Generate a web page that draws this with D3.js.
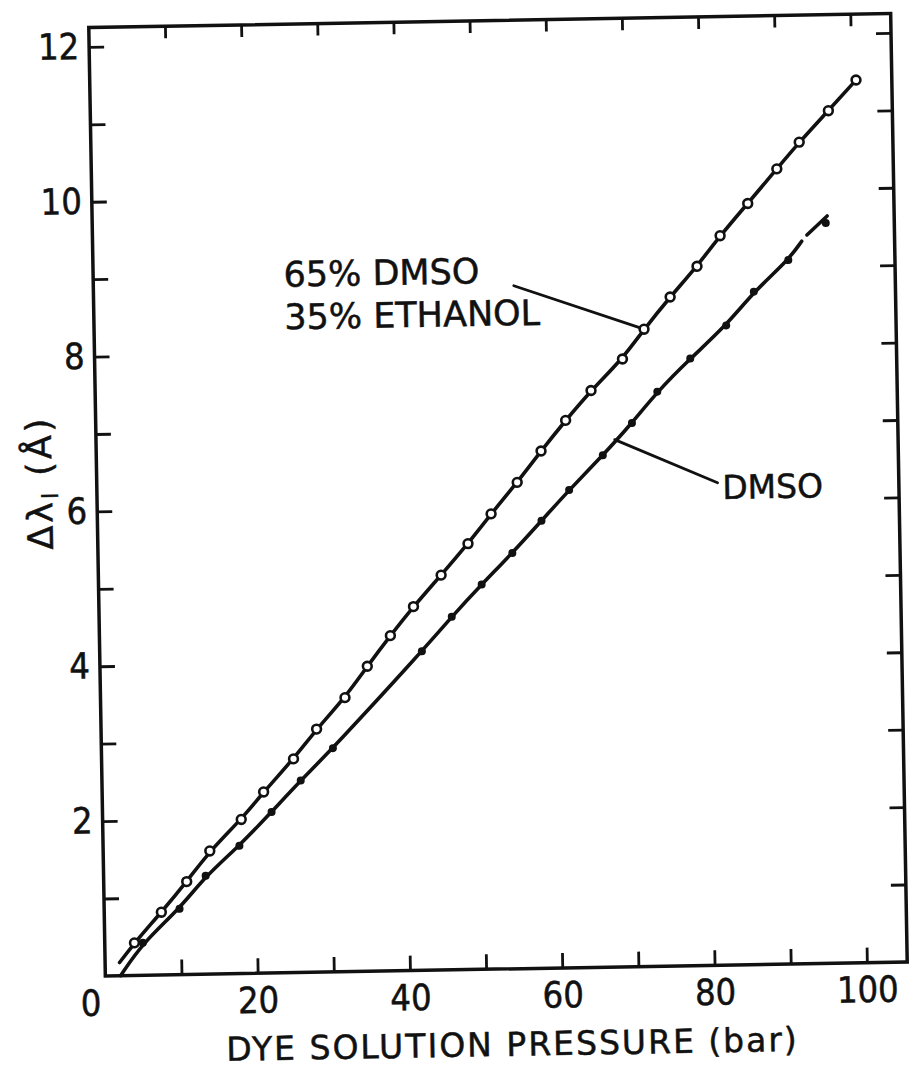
<!DOCTYPE html>
<html>
<head>
<meta charset="utf-8">
<script src="https://cdn.jsdelivr.net/npm/d3@7"></script>
<style>
  html, body { margin: 0; padding: 0; background: #fff; }
  svg { display: block; }
  text { font-family: "DejaVu Sans", sans-serif; fill: #111; stroke: #111; stroke-width: 0.5px; }
</style>
</head>
<body>
<svg id="chart" width="912" height="1069"></svg>
<script>
// Pressure (bar) and wavelength shift (Å) for the 65% DMSO / 35% ethanol mixture
const pressureMix = [3.9, 7.5, 10.9, 14.0, 18.2, 21.2, 25.2, 28.3, 32.1, 35.1, 38.2, 41.3, 45.0, 48.6, 51.7,
                     55.2, 58.4, 61.7, 65.1, 69.3, 72.2, 75.7, 79.3, 82.4, 86.1, 90.0, 93.0, 96.9, 100.6];
const shiftMix    = [0.42, 0.81, 1.20, 1.59, 1.99, 2.34, 2.76, 3.14, 3.54, 3.94, 4.33, 4.70, 5.10, 5.50, 5.88,
                     6.28, 6.68, 7.07, 7.45, 7.85, 8.23, 8.64, 9.03, 9.42, 9.83, 10.27, 10.61, 11.01, 11.40];

// Pressure (bar) and wavelength shift (Å) for pure DMSO
const pressureDmso = [5.0, 9.9, 13.4, 17.9, 22.2, 26.1, 30.4, 42.3, 46.3, 50.3, 54.4, 58.3, 62.0, 66.5,
                      70.4, 73.8, 78.2, 83.0, 86.7, 91.3, 96.3];
const shiftDmso    = [0.42, 0.85, 1.27, 1.65, 2.08, 2.48, 2.89, 4.12, 4.56, 4.97, 5.37, 5.78, 6.17, 6.61,
                      7.02, 7.42, 7.84, 8.26, 8.69, 9.09, 9.56];

// Ends of the drawn curves (the DMSO curve finishes with a short dash)
const mixCurveStart  = [1.9, 0.17];
const dmsoCurveStart = [2.0, 0.0];
const dmsoCurveBreak = [93.1, 9.33];
const dmsoTail       = [[93.8, 9.41], [96.5, 9.65]];

// Label leaders, in data units
const mixLeader  = [[55.2, 8.82], [72.2, 8.23]];
const dmsoLeader = [[68.1, 6.81], [81.5, 6.23]];
const mixLabelLines = ["65% DMSO", "35% ETHANOL"];
const mixLabelAt    = [[25.0, 8.86], [25.0, 8.31]];
const dmsoLabel     = "DMSO";
const dmsoLabelAt   = [82.1, 6.02];

// Axes
const xTicks  = [10, 20, 30, 40, 50, 60, 70, 80, 90, 100];
const xLabels = [0, 20, 40, 60, 80, 100];
const yTicks  = [1, 2, 3, 4, 5, 6, 7, 8, 9, 10, 11, 12];
const yLabels = [2, 4, 6, 8, 10, 12];
const xTitle  = "DYE SOLUTION PRESSURE  (bar)";

const frame = { left: 97, right: 899, top: 20.5, bottom: 969 };
const ink = "#111";

const svg = d3.select("#chart");
// The whole plate sits very slightly turned
const root = svg.append("g").attr("transform", "rotate(-1, 498, 495)");

const x = d3.scaleLinear().domain([0, 105.3]).range([frame.left, frame.right]);
const y = d3.scaleLinear().domain([0, 12.25]).range([frame.bottom, frame.top]);

// Frame
root.append("rect")
  .attr("x", frame.left).attr("y", frame.top)
  .attr("width", frame.right - frame.left).attr("height", frame.bottom - frame.top)
  .attr("fill", "none").attr("stroke", ink).attr("stroke-width", 3.5);

const styleTicks = g => {
  g.select(".domain").remove();
  g.selectAll(".tick line").attr("stroke", ink).attr("stroke-width", 2.8);
};

// Inward ticks on all four sides
root.append("g").attr("transform", `translate(0,${frame.bottom})`)
  .call(d3.axisBottom(x).tickValues(xTicks).tickSize(-15).tickFormat(""))
  .call(styleTicks);
root.append("g").attr("transform", `translate(0,${frame.top})`)
  .call(d3.axisTop(x).tickValues(xTicks).tickSize(-12).tickFormat(""))
  .call(styleTicks);
root.append("g").attr("transform", `translate(${frame.left},0)`)
  .call(d3.axisLeft(y).tickValues(yTicks).tickSize(-15).tickFormat(""))
  .call(styleTicks);
root.append("g").attr("transform", `translate(${frame.right},0)`)
  .call(d3.axisRight(y).tickValues(yTicks).tickSize(-15).tickFormat(""))
  .call(styleTicks);

const tickFont = '"Liberation Sans Narrow", "DejaVu Sans Condensed", "DejaVu Sans", sans-serif';

// Tick labels
const xLab = root.append("g").attr("transform", `translate(0,${frame.bottom})`)
  .call(d3.axisBottom(x).tickValues(xLabels).tickSize(0).tickPadding(14).tickFormat(d3.format("d")));
xLab.select(".domain").remove();
xLab.attr("font-family", null).attr("font-size", null);
xLab.selectAll("text").style("font-family", tickFont).attr("font-size", 36).attr("fill", ink);
xLab.selectAll(".tick").filter(d => d === 0).select("text")
  .attr("text-anchor", "end").attr("x", -5);

const yLab = root.append("g").attr("transform", `translate(${frame.left},0)`)
  .call(d3.axisLeft(y).tickValues(yLabels).tickSize(0).tickPadding(10).tickFormat(d3.format("d")));
yLab.select(".domain").remove();
yLab.attr("font-family", null).attr("font-size", null);
yLab.selectAll("text").style("font-family", tickFont).attr("font-size", 36).attr("fill", ink);

// Axis titles
root.append("text")
  .attr("x", (frame.left + frame.right) / 2 + 5)
  .attr("y", frame.bottom + 87)
  .attr("text-anchor", "middle")
  .attr("font-size", 33)
  .attr("letter-spacing", 2)
  .text(xTitle);

const yTitle = root.append("text")
  .attr("transform", `translate(52,${(frame.top + frame.bottom) / 2 - 20}) rotate(-90)`)
  .attr("text-anchor", "middle")
  .attr("font-size", 35)
  .attr("letter-spacing", 3);
yTitle.append("tspan").text("Δλ");
yTitle.append("tspan").attr("font-size", 22).attr("dy", 6).text("l");
yTitle.append("tspan").attr("dy", -6).text(" (Å)");

// Curves
const curve = d3.line().x(d => x(d[0])).y(d => y(d[1])).curve(d3.curveBasis);
const straight = d3.line().x(d => x(d[0])).y(d => y(d[1]));

const mixPts = pressureMix.map((p, i) => [p, shiftMix[i]]);
const dmsoPts = pressureDmso.map((p, i) => [p, shiftDmso[i]]);

const curveMix = [mixCurveStart, ...mixPts];
const curveDmso = [dmsoCurveStart, ...dmsoPts.filter(d => d[0] < dmsoCurveBreak[0]), dmsoCurveBreak];

const lines = root.append("g").attr("fill", "none").attr("stroke", ink)
  .attr("stroke-width", 3.6).attr("stroke-linecap", "round");
lines.append("path").attr("d", curve(curveMix));
lines.append("path").attr("d", curve(curveDmso));
lines.append("path").attr("d", straight(dmsoTail));

// Leaders
lines.append("path").attr("d", straight(mixLeader)).attr("stroke-width", 2.8);
lines.append("path").attr("d", straight(dmsoLeader)).attr("stroke-width", 2.8);

// Markers: open circles for the mixture, filled dots for DMSO
root.append("g").selectAll("circle").data(mixPts).join("circle")
  .attr("cx", d => x(d[0])).attr("cy", d => y(d[1])).attr("r", 4.4)
  .attr("fill", "#fff").attr("stroke", ink).attr("stroke-width", 2.6);
root.append("g").selectAll("circle").data(dmsoPts).join("circle")
  .attr("cx", d => x(d[0])).attr("cy", d => y(d[1])).attr("r", 4)
  .attr("fill", ink);

// Curve labels
root.append("g").selectAll("text").data(mixLabelLines).join("text")
  .attr("x", (d, i) => x(mixLabelAt[i][0]))
  .attr("y", (d, i) => y(mixLabelAt[i][1]))
  .attr("font-size", 35)
  .text(d => d);
root.append("text")
  .attr("x", x(dmsoLabelAt[0])).attr("y", y(dmsoLabelAt[1]))
  .attr("font-size", 33)
  .text(dmsoLabel);
</script>
</body>
</html>
